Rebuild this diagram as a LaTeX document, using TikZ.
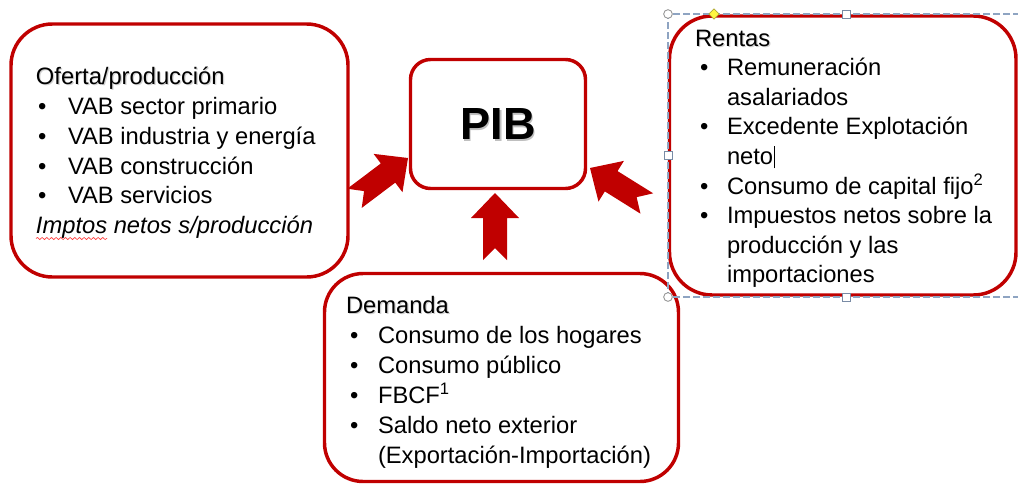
\documentclass[tikz,border=0pt]{standalone}
\usepackage{fontspec}
\setmainfont{Liberation Sans}
\usetikzlibrary{fit,shapes.geometric,decorations.pathmorphing}
\definecolor{pptred}{HTML}{C00000}
\definecolor{selblue}{HTML}{8EA4C2}
\definecolor{handlegray}{HTML}{8C8C8C}
\begin{document}
\begin{tikzpicture}[x=0.75pt,y=-0.75pt,
  box/.style={draw=pptred, line width=2.6pt, fill=white, inner sep=0pt, outer sep=0pt},
  txt/.style={anchor=base west, inner sep=0pt, outer sep=0pt, font=\fontsize{17.8pt}{21pt}\selectfont},
  shade/.style={txt, text=black!18},
  bigtxt/.style={inner sep=0pt, font=\fontsize{33.8pt}{40pt}\selectfont\bfseries},
  notched/.pic={\fill[pptred] (0,0) -- (-25,24) -- (-25,12) -- (-67,12) -- (-55,0) -- (-67,-12) -- (-25,-12) -- (-25,-24) -- cycle;},
  selline/.style={selblue, line width=0.8pt, dash pattern=on 5pt off 2.5pt},
  hcircle/.style={circle, draw=handlegray, fill=white, line width=0.6pt, minimum size=6.5pt, inner sep=0pt},
  hsquare/.style={rectangle, draw=selblue!85!black, fill=white, line width=0.6pt, minimum size=6pt, inner sep=0pt},
  hdiamond/.style={diamond, draw=olive!70, fill=yellow!75, line width=0.5pt, minimum size=8pt, inner sep=0pt}]
\useasboundingbox (0,0) rectangle (1018,486);
\clip (0,0) rectangle (1018,486);

% boxes
\node[box, rounded corners=31pt, fit={(11,24) (348,277)}] (ofe) {};
\node[box, rounded corners=15pt, fit={(410.5,59.5) (585.5,188.5)}] (pib) {};
\node[box, rounded corners=29pt, fit={(324.5,273.5) (678.5,481.5)}] (dem) {};
\node[box, rounded corners=32pt, fit={(669.5,16) (1016,295)}] (ren) {};

% block arrows
\coordinate (tipL) at (408,158);
\coordinate (tipU) at (495,193);
\coordinate (tipR) at (590,168);
\pic[rotate=37] at (tipL) {notched};
\pic[rotate=90] at (tipU) {notched};
\pic[rotate=148] at (tipR) {notched};

% PIB
\node[bigtxt, text=black!25] (pibs) at (499.5,125.5) {PIB};
\node[bigtxt] (pibt) at (498,124) {PIB};

% Oferta/produccion
\node[shade] (oh0) at (37.2,85.2) {Oferta/producción};
\node[txt] (oh) at (36,84) {Oferta/producción};
\node[txt] (ob1) at (38,114) {•};
\node[txt] (ot1) at (68,114) {VAB sector primario};
\node[txt] (ob2) at (38,144) {•};
\node[txt] (ot2) at (68,144) {VAB industria y energía};
\node[txt] (ob3) at (38,174) {•};
\node[txt] (ot3) at (68,174) {VAB construcción};
\node[txt] (ob4) at (38,203) {•};
\node[txt] (ot4) at (68,203) {VAB servicios};
\node[txt, font=\fontsize{17.8pt}{21pt}\selectfont\itshape] (ot5) at (36,233) {Imptos netos s/producción};
\draw[red!75, line width=0.5pt, decorate, decoration={snake, amplitude=0.8pt, segment length=3.5pt}] (36,238.5) -- (107,238.5);

% Rentas
\node[shade] (rh0) at (696.2,47.2) {Rentas};
\node[txt] (rh) at (695,46) {Rentas};
\node[txt] (rb1) at (700,75.6) {•};
\node[txt] (rt1) at (727,75.6) {Remuneración};
\node[txt] (rt1b) at (727,105.2) {asalariados};
\node[txt] (rb2) at (700,134.8) {•};
\node[txt] (rt2) at (727,134.8) {Excedente Explotación};
\node[txt] (rt2b) at (727,164.4) {neto};
\draw[line width=0.9pt] ([xshift=1.2pt,yshift=-3pt]rt2b.base east) coordinate (cur) -- ++(0,-22);
\node[txt] (rb3) at (700,194) {•};
\node[txt] (rt3) at (727,194) {Consumo de capital fijo\textsuperscript{2}};
\node[txt] (rb4) at (700,223.6) {•};
\node[txt] (rt4) at (727,223.6) {Impuestos netos sobre la};
\node[txt] (rt4b) at (727,253.2) {producción y las};
\node[txt] (rt4c) at (727,282.8) {importaciones};

% Demanda
\node[shade] (dh0) at (347.2,314.2) {Demanda};
\node[txt] (dh) at (346,313) {Demanda};
\node[txt] (db1) at (350,343) {•};
\node[txt] (dt1) at (378,343) {Consumo de los hogares};
\node[txt] (db2) at (350,373) {•};
\node[txt] (dt2) at (378,373) {Consumo público};
\node[txt] (db3) at (350,403) {•};
\node[txt] (dt3) at (378,403) {FBCF\textsuperscript{1}};
\node[txt] (db4) at (350,433) {•};
\node[txt] (dt4) at (378,433) {Saldo neto exterior};
\node[txt] (dt4b) at (378,463) {(Exportación-Importación)};

% selection frame of the Rentas box
\draw[selline] (1030,14) -- (668,14) -- (668,297) -- (1030,297);
\node[hcircle] (hc1) at (668,14) {};
\node[hcircle] (hc2) at (668,297) {};
\node[hsquare] (hs1) at (846,14) {};
\node[hsquare] (hs2) at (668,155) {};
\node[hsquare] (hs3) at (846,297) {};
\node[hdiamond] (hd) at (714,14) {};
\end{tikzpicture}
\end{document}
